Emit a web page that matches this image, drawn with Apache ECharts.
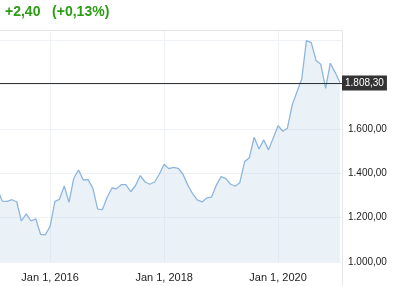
<!DOCTYPE html>
<html>
<head>
<meta charset="utf-8">
<style>html,body{margin:0;padding:0;background:#fff;}#c{width:402px;height:286px;}</style>
<script src="https://cdn.jsdelivr.net/npm/echarts@6/dist/echarts.min.js"></script>
</head>
<body>
<div id="c"></div>
<script>
const months = [
  '2015-02','2015-03','2015-04','2015-05','2015-06','2015-07','2015-08','2015-09','2015-10','2015-11','2015-12',
  '2016-01','2016-02','2016-03','2016-04','2016-05','2016-06','2016-07','2016-08','2016-09','2016-10','2016-11','2016-12',
  '2017-01','2017-02','2017-03','2017-04','2017-05','2017-06','2017-07','2017-08','2017-09','2017-10','2017-11','2017-12',
  '2018-01','2018-02','2018-03','2018-04','2018-05','2018-06','2018-07','2018-08','2018-09','2018-10','2018-11','2018-12',
  '2019-01','2019-02','2019-03','2019-04','2019-05','2019-06','2019-07','2019-08','2019-09','2019-10','2019-11','2019-12',
  '2020-01','2020-02','2020-03','2020-04','2020-05','2020-06','2020-07','2020-08','2020-09','2020-10','2020-11','2020-12',
  '2021-01','2021-02'
];
const prices = [
  1320,1275,1274,1281,1272,1185,1217,1185,1195,1125,1122,
  1161,1274,1283,1343,1269,1378,1415,1370,1372,1333,1239,1236,
  1292,1334,1330,1349,1349,1317,1344,1390,1361,1351,1361,1396,
  1441,1421,1427,1423,1397,1348,1310,1280,1271,1289,1293,1346,
  1385,1376,1352,1342,1358,1453,1470,1563,1510,1551,1506,1558,
  1615,1590,1604,1709,1767,1826,1999,1990,1909,1892,1784,1897,
  1856,1810
];
const currentPrice = 1808.30;
const changeAbs = '+2,40';
const changePct = '(+0,13%)';
const xTickDates = ['2016-01-01','2018-01-01','2020-01-01'];
const xTickLabels = ['Jan 1, 2016','Jan 1, 2018','Jan 1, 2020'];
const yTickValues = [1000,1200,1400,1600];
const xRange = ['2015-02-14','2021-02-14'];

function ts(s){ const p = s.split('-').map(Number); return Date.UTC(p[0], p[1]-1, p[2] || 1); }
function de(v){
  const neg = v < 0; v = Math.abs(v);
  const parts = v.toFixed(2).split('.');
  const int = parts[0].replace(/\B(?=(\d{3})+(?!\d))/g, '.');
  return (neg ? '-' : '') + int + ',' + parts[1];
}

const data = months.map((m, i) => [ts(m), prices[i]]);
const tickTs = xTickDates.map(ts);

const chart = echarts.init(document.getElementById('c'), null, {renderer: 'canvas'});
const FONT = 'Arial, "Liberation Sans", sans-serif';
chart.setOption({
  animation: false,
  backgroundColor: '#fff',
  title: {
    text: changeAbs + '   ' + changePct,
    left: 5, top: 5, padding: 0,
    textStyle: {color: '#2a9d12', fontSize: 14, fontWeight: 'bold', fontFamily: FONT}
  },
  grid: {left: 0, right: 60, top: 30, bottom: 24},
  xAxis: {
    type: 'value',
    min: ts(xRange[0]), max: ts(xRange[1]),
    axisLine: {show: false},
    axisTick: {show: false, customValues: tickTs},
    splitLine: {show: true, lineStyle: {color: '#eef1f5', width: 1}},
    axisLabel: {
      customValues: tickTs,
      margin: 10,
      color: '#222', fontSize: 11, fontFamily: FONT,
      formatter: function (v) {
        const i = tickTs.indexOf(v);
        return i >= 0 ? xTickLabels[i] : '';
      }
    }
  },
  yAxis: {
    type: 'value',
    position: 'right',
    min: 1000, max: 2047, interval: 200,
    axisLine: {show: false},
    axisTick: {show: false},
    splitLine: {show: true, lineStyle: {color: '#eef1f5', width: 1}},
    axisLabel: {
      margin: 6, color: '#222', fontSize: 10, fontFamily: FONT,
      showMaxLabel: false,
      formatter: function (v) { return yTickValues.indexOf(v) >= 0 ? de(v) : ''; }
    }
  },
  series: [{
    type: 'line',
    data: data,
    symbol: 'none',
    clip: true,
    lineStyle: {color: '#8db6de', width: 1.3},
    areaStyle: {color: 'rgba(204,222,235,0.55)', origin: 'start'},
    markLine: {
      silent: true,
      symbol: ['none', 'none'],
      lineStyle: {color: '#333', width: 1, type: 'solid'},
      label: {
        show: true, position: 'end', distance: 0,
        formatter: de(currentPrice),
        color: '#fff', backgroundColor: '#333',
        fontSize: 10, fontFamily: FONT, lineHeight: 11,
        padding: [2, 3, 2, 3]
      },
      data: [{yAxis: currentPrice}]
    },
    z: 2
  }],
  graphic: [
    {type: 'line', z: 1, shape: {x1: 0, y1: 30.5, x2: 342.5, y2: 30.5}, style: {stroke: '#e3e7ec', lineWidth: 1}},
    {type: 'line', z: 1, shape: {x1: 342.5, y1: 30, x2: 342.5, y2: 286}, style: {stroke: '#e3e7ec', lineWidth: 1}}
  ]
});
</script>
</body>
</html>
